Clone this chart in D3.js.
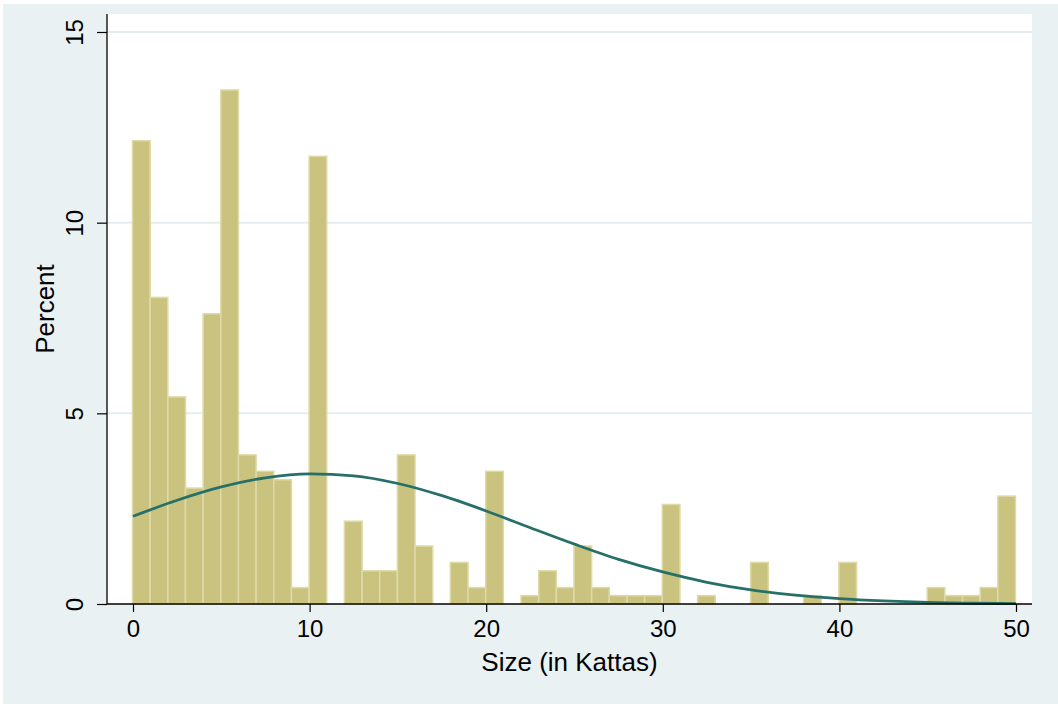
<!DOCTYPE html>
<html>
<head>
<meta charset="utf-8">
<script src="https://cdn.jsdelivr.net/npm/d3@7"></script>
<style>
  body { margin: 0; background: #ffffff; }
  text { font-family: Arial, "Liberation Sans", Helvetica, sans-serif; }
</style>
</head>
<body>
<div id="chart"></div>
<script>

// histogram bins (lower edge, width 1 Katta) and percent in each bin
const binStart = [0, 1, 2, 3, 4, 5, 6, 7, 8, 9,
    10, 11, 12, 13, 14, 15, 16, 17, 18, 19,
    20, 21, 22, 23, 24, 25, 26, 27, 28, 29,
    30, 31, 32, 33, 34, 35, 36, 37, 38, 39,
    40, 41, 42, 43, 44, 45, 46, 47, 48, 49];
const binPercent = [12.15, 8.04, 5.43, 3.04, 7.61, 13.48, 3.91, 3.48, 3.26, 0.43,
    11.74, 0, 2.17, 0.87, 0.87, 3.91, 1.52, 0, 1.09, 0.43,
    3.48, 0, 0.22, 0.87, 0.43, 1.52, 0.43, 0.22, 0.22, 0.22,
    2.61, 0, 0.22, 0, 0, 1.09, 0, 0, 0.22, 0,
    1.09, 0, 0, 0, 0, 0.43, 0.22, 0.22, 0.43, 2.83];

// normal density overlay
const normX = [0, 2.5, 5, 7.5, 10, 12.5, 15, 17.5, 20, 22.5, 25,
    27.5, 30, 32.5, 35, 37.5, 40, 42.5, 45, 47.5, 50];
const normPercent = [2.30, 2.72, 3.07, 3.31, 3.41, 3.36, 3.16, 2.84, 2.44, 2.00, 1.57,
    1.17, 0.84, 0.57, 0.37, 0.23, 0.14, 0.08, 0.04, 0.02, 0.01];

const xTicks = [0, 10, 20, 30, 40, 50];
const yTicks = [0, 5, 10, 15];

let vis = {};
vis.W = 1058;
vis.H = 708;

vis.svg = d3.select("#chart").append("svg")
    .attr("width", vis.W)
    .attr("height", vis.H);

// graph region background
vis.svg.append("rect")
    .attr("x", 3).attr("y", 4)
    .attr("width", vis.W - 3).attr("height", 700)
    .attr("fill", "#eaf1f3");

// plot region
vis.plot = {left: 107, right: 1032, top: 14, bottom: 604};
vis.svg.append("rect")
    .attr("x", vis.plot.left).attr("y", vis.plot.top)
    .attr("width", vis.plot.right - vis.plot.left)
    .attr("height", vis.plot.bottom - vis.plot.top)
    .attr("fill", "#ffffff");

// scales
vis.x = d3.scaleLinear().domain([0, 50]).range([133, 1016]);
vis.y = d3.scaleLinear().domain([0, 15]).range([604, 32]);

// gridlines
vis.svg.append("g")
    .selectAll("line")
    .data(yTicks.filter(d => d > 0))
    .join("line")
    .attr("x1", vis.plot.left).attr("x2", vis.plot.right)
    .attr("y1", d => vis.y(d)).attr("y2", d => vis.y(d))
    .attr("stroke", "#e4eef0")
    .attr("stroke-width", 2);

// bars
vis.svg.append("g")
    .selectAll("rect")
    .data(binStart.map((b, i) => ({x0: b, x1: b + 1, v: binPercent[i]})).filter(d => d.v > 0))
    .join("rect")
    .attr("x", d => vis.x(d.x0) - 0.5)
    .attr("width", d => vis.x(d.x1) - vis.x(d.x0))
    .attr("y", d => vis.y(d.v))
    .attr("height", d => vis.y(0) - vis.y(d.v))
    .attr("fill", "#cac37f")
    .attr("stroke", "#dedaa6")
    .attr("stroke-width", 1.5);

// normal curve
vis.line = d3.line()
    .x(d => vis.x(d[0]))
    .y(d => vis.y(d[1]))
    .curve(d3.curveMonotoneX);

vis.svg.append("path")
    .datum(normX.map((d, i) => [d, normPercent[i]]))
    .attr("fill", "none")
    .attr("stroke", "#27706a")
    .attr("stroke-width", 2.8);

vis.svg.select("path").attr("d", vis.line);

// x axis
vis.xAxis = d3.axisBottom(vis.x)
    .tickValues(xTicks)
    .tickSize(8)
    .tickPadding(8)
    .tickFormat(d3.format("d"));

vis.gx = vis.svg.append("g")
    .attr("transform", "translate(0," + vis.plot.bottom + ")")
    .call(vis.xAxis);
vis.gx.select(".domain").remove();
vis.gx.selectAll("line").attr("stroke", "#000").attr("stroke-width", 1.2);
vis.gx.selectAll("text")
    .attr("font-size", 24)
    .attr("fill", "#000")
    .style("font-family", "Arial, 'Liberation Sans', sans-serif");

vis.svg.append("line")
    .attr("x1", vis.plot.left).attr("x2", vis.plot.right)
    .attr("y1", vis.plot.bottom).attr("y2", vis.plot.bottom)
    .attr("stroke", "#000").attr("stroke-width", 1.3);

// y axis
vis.yAxis = d3.axisLeft(vis.y)
    .tickValues(yTicks)
    .tickSize(10)
    .tickFormat(d3.format("d"));

vis.gy = vis.svg.append("g")
    .attr("transform", "translate(" + vis.plot.left + ",0)")
    .call(vis.yAxis);
vis.gy.select(".domain").remove();
vis.gy.selectAll("line").attr("stroke", "#000").attr("stroke-width", 1.2);
vis.gy.selectAll("text")
    .attr("font-size", 24)
    .attr("fill", "#000")
    .attr("x", null).attr("dy", null)
    .attr("text-anchor", "middle")
    .attr("transform", "translate(-24,0) rotate(-90)")
    .style("font-family", "Arial, 'Liberation Sans', sans-serif");

vis.svg.append("line")
    .attr("x1", vis.plot.left).attr("x2", vis.plot.left)
    .attr("y1", vis.plot.top).attr("y2", vis.plot.bottom)
    .attr("stroke", "#000").attr("stroke-width", 1.3);

// axis titles
vis.svg.append("text")
    .attr("x", (vis.x(0) + vis.x(50)) / 2 - 5)
    .attr("y", 671)
    .attr("text-anchor", "middle")
    .attr("font-size", 26)
    .text("Size (in Kattas)");

vis.svg.append("text")
    .attr("transform", "translate(54," + ((vis.plot.top + vis.plot.bottom) / 2) + ") rotate(-90)")
    .attr("text-anchor", "middle")
    .attr("font-size", 26)
    .text("Percent");

</script>
</body>
</html>
